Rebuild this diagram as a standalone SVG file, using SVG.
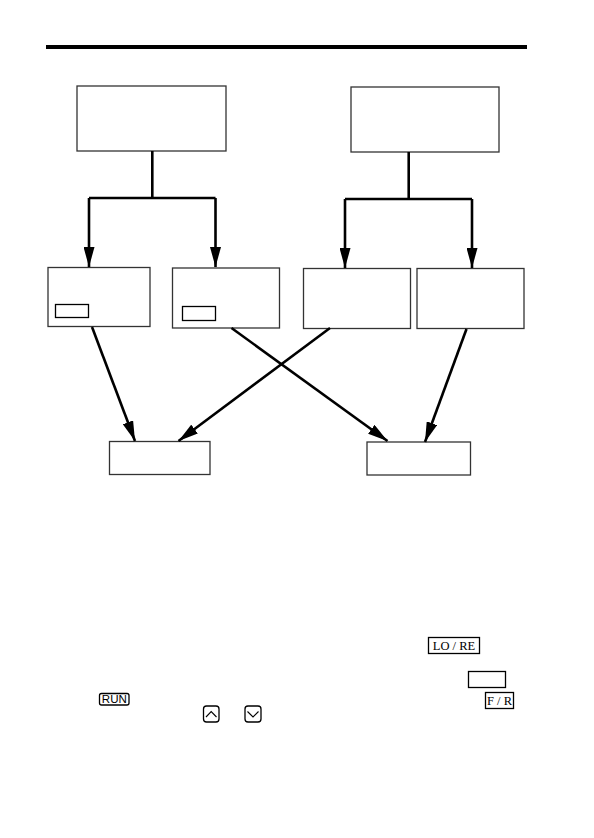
<svg xmlns="http://www.w3.org/2000/svg" width="594" height="838" viewBox="0 0 594 838">
<style>
.box{fill:#fff;stroke:#333;stroke-width:1.3}
.conn{fill:none;stroke:#000;stroke-width:2.6}
.key{fill:#fff;stroke:#000;stroke-width:1.3}
.serif{font-family:"Liberation Serif",serif;font-size:12.5px;fill:#000}
.sans{font-family:"Liberation Sans",sans-serif;font-size:10px;fill:#000}
</style>
<defs>
<marker id="ah" markerWidth="20" markerHeight="11" refX="20" refY="5.5" orient="auto" markerUnits="userSpaceOnUse">
<path d="M0,0 L20,5.5 L0,11 Z" fill="#000"/>
</marker>
</defs>
<rect x="46" y="45" width="481" height="4" fill="#000"/>
<g id="topL"><rect class="box" x="77" y="86" width="149" height="65"/></g>
<g id="topR"><rect class="box" x="351" y="87" width="148" height="65"/></g>
<g id="mid1"><rect class="box" x="48" y="267.5" width="102" height="59"/><rect class="key" x="55.5" y="304.5" width="33" height="13"/></g>
<g id="mid2"><rect class="box" x="172.5" y="268" width="107" height="60"/><rect class="key" x="182.5" y="306.5" width="33" height="14"/></g>
<g id="mid3"><rect class="box" x="303.5" y="268.5" width="107" height="60"/></g>
<g id="mid4"><rect class="box" x="417" y="268.5" width="107" height="60"/></g>
<g id="botL"><rect class="box" x="109.5" y="441.5" width="100.5" height="33"/></g>
<g id="botR"><rect class="box" x="367" y="442" width="103.5" height="33"/></g>
<g id="connectors">
<path class="conn" d="M152.3,151 V198"/>
<path class="conn" d="M89,198 H215.5"/>
<path class="conn" d="M89,198 V267" marker-end="url(#ah)"/>
<path class="conn" d="M215.5,198 V267" marker-end="url(#ah)"/>
<path class="conn" d="M408.7,152 V199"/>
<path class="conn" d="M345,199 H472"/>
<path class="conn" d="M345,199 V268" marker-end="url(#ah)"/>
<path class="conn" d="M472,199 V268" marker-end="url(#ah)"/>
<path class="conn" d="M92,327 L135,441" marker-end="url(#ah)"/>
<path class="conn" d="M330,328 L178.5,441" marker-end="url(#ah)"/>
<path class="conn" d="M231.5,328 L387.5,441" marker-end="url(#ah)"/>
<path class="conn" d="M466.5,329 L425,442" marker-end="url(#ah)"/>
</g>
<g id="keys">
<rect class="key" x="428.5" y="637.5" width="51" height="16"/>
<text class="serif" x="454" y="650" text-anchor="middle">LO / RE</text>
<rect class="key" x="468.5" y="671.5" width="37" height="16"/>
<rect class="key" x="485.5" y="692.5" width="28" height="16"/>
<text class="serif" x="499.5" y="705" text-anchor="middle">F / R</text>
<rect class="key" x="99.5" y="693.5" width="29.5" height="11.5" rx="2"/>
<text class="sans" x="114.3" y="703" text-anchor="middle" textLength="25" lengthAdjust="spacingAndGlyphs">RUN</text>
<rect class="key" x="203.5" y="706" width="15.5" height="16" rx="3"/>
<path d="M206,717 L211.2,711.5 L216.5,717" fill="none" stroke="#000" stroke-width="1.1"/>
<rect class="key" x="245" y="706" width="16" height="16" rx="3"/>
<path d="M247.5,711.5 L253,717 L258.5,711.5" fill="none" stroke="#000" stroke-width="1.1"/>
</g>
</svg>
